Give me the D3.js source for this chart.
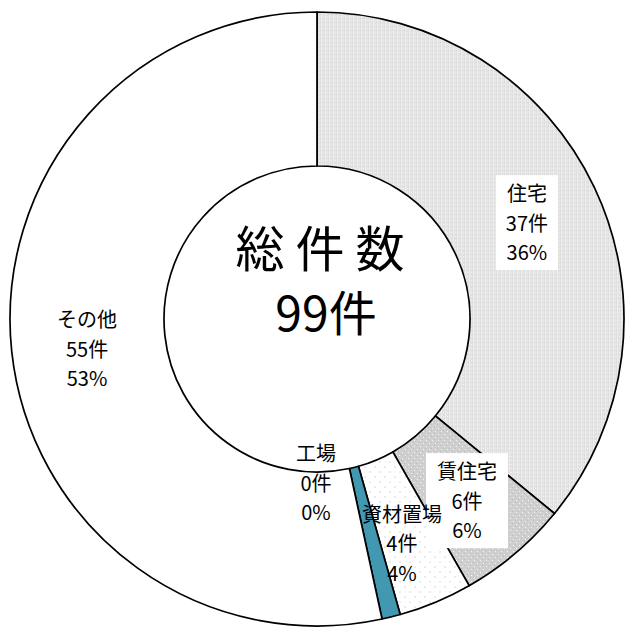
<!DOCTYPE html>
<html><head><meta charset="utf-8">
<script src="https://cdn.jsdelivr.net/npm/d3@7"></script>
<style>
html,body{margin:0;padding:0;background:#fff;}
svg{display:block;}
text{font-family:"Noto Sans CJK JP","Noto Sans",sans-serif;fill:#000;}
</style></head>
<body>
<script>
const categories = ["住宅","賃住宅","資材置場","工場","その他"];
const sliceValues = [37, 6, 4, 1, 55];
const countLabels = ["37件","6件","4件","0件","55件"];
const percentLabels = ["36%","6%","4%","0%","53%"];
const centerTitle = "総 件 数";
const centerTotal = "99件";

const W = 626, H = 630;
const cx = 317, cy = 319, R = 307, r = 153;

const svg = d3.select("body").append("svg").attr("width", W).attr("height", H);
const defs = svg.append("defs");

// 住宅 pattern: light gray fine texture
const p1 = defs.append("pattern").attr("id","pat0").attr("width",4).attr("height",4).attr("patternUnits","userSpaceOnUse");
p1.append("rect").attr("width",4).attr("height",4).attr("fill","#e2e2e2");
p1.append("rect").attr("x",0).attr("y",0).attr("width",1).attr("height",4).attr("fill","#ededed");
p1.append("rect").attr("x",2).attr("y",1).attr("width",1).attr("height",1).attr("fill","#f2f2f2");
p1.append("rect").attr("x",3).attr("y",3).attr("width",1).attr("height",1).attr("fill","#d6d6d6");
// 賃住宅 pattern: darker gray with white dots
const p2 = defs.append("pattern").attr("id","pat1").attr("width",6).attr("height",6).attr("patternUnits","userSpaceOnUse");
p2.append("rect").attr("width",6).attr("height",6).attr("fill","#cfcfcf");
p2.append("rect").attr("x",1).attr("y",1).attr("width",1).attr("height",1).attr("fill","#f4f4f4");
p2.append("rect").attr("x",4).attr("y",4).attr("width",1).attr("height",1).attr("fill","#f4f4f4");
p2.append("rect").attr("x",3).attr("y",0).attr("width",1).attr("height",1).attr("fill","#bdbdbd");
p2.append("rect").attr("x",0).attr("y",3).attr("width",1).attr("height",1).attr("fill","#bdbdbd");
// 資材置場 pattern: white with light gray dots
const p3 = defs.append("pattern").attr("id","pat2").attr("width",10).attr("height",10).attr("patternUnits","userSpaceOnUse");
p3.append("rect").attr("width",10).attr("height",10).attr("fill","#ffffff");
p3.append("rect").attr("x",2).attr("y",2).attr("width",2).attr("height",2).attr("fill","#ebebeb");
p3.append("rect").attr("x",7).attr("y",7).attr("width",2).attr("height",2).attr("fill","#ebebeb");

const fills = ["url(#pat0)","url(#pat1)","url(#pat2)","#4298b0","#ffffff"];

const pie = d3.pie().sort(null).value(d => d);
const arcs = pie(sliceValues);
const arc = d3.arc().innerRadius(r).outerRadius(R);

const g = svg.append("g").attr("transform", `translate(${cx},${cy})`);
g.selectAll("path.slice").data(arcs).join("path")
  .attr("class","slice")
  .attr("d", arc)
  .attr("fill", (d,i) => fills[i])
  .attr("stroke", "#000")
  .attr("stroke-width", 1.7)
  .attr("stroke-linejoin","round");

// label placement: radius fraction and angular nudge from the slice mid-angle
const labelDefs = [
  {rad: 0.753, angShift: 0.01,  box: true},
  {rad: 0.766, angShift: 0.01,  box: true},
  {rad: 0.78,  angShift: 0.034, box: false},
  {rad: 0.531, angShift: 0.25,  box: false},
  {rad: 0.755, angShift: -0.019, box: false}
];

const lineH = 29.5, fs = 20;
arcs.forEach((d, i) => {
  const ld = labelDefs[i];
  const a = (d.startAngle + d.endAngle) / 2 + ld.angShift;
  const rr = ld.rad * R;
  const x = Math.sin(a) * rr;
  const y = -Math.cos(a) * rr;
  const lg = g.append("g").attr("transform", `translate(${x},${y})`);
  const lines = [categories[i], countLabels[i], percentLabels[i]];
  if (ld.box) {
    const bw = categories[i].length * fs + 22;
    lg.append("rect").attr("x", -bw/2).attr("y", -47).attr("width", bw).attr("height", 95).attr("fill", "#fff");
  }
  lines.forEach((t, k) => {
    lg.append("text").attr("x", 0).attr("y", (k - 1) * lineH)
      .attr("text-anchor", "middle").attr("dominant-baseline", "central")
      .attr("font-size", fs).text(t);
  });
});

// center text
g.append("text").attr("x", 3).attr("y", -74).attr("text-anchor","middle").attr("dominant-baseline","central")
  .attr("font-size", 49).text(centerTitle);
g.append("text").attr("x", 9).attr("y", -9).attr("text-anchor","middle").attr("dominant-baseline","central")
  .attr("font-size", 48).text(centerTotal);
</script>
</body></html>
